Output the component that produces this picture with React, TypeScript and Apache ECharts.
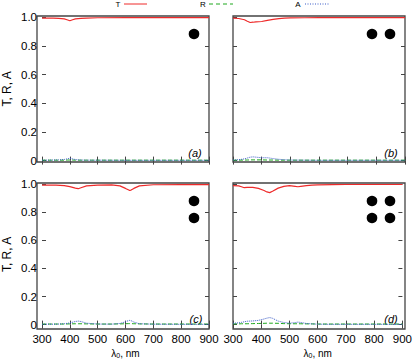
import React, { useEffect, useRef } from "react";
import * as echarts from "echarts";

// ---- data ----
const lamA = [300, 320, 340, 360, 380, 390, 400, 410, 420, 440, 460, 500, 600, 700, 800, 900];
const tA = [0.994, 0.994, 0.993, 0.992, 0.988, 0.982, 0.975, 0.982, 0.988, 0.992, 0.994, 0.996, 0.997, 0.997, 0.997, 0.997];
const rA = [0.003, 0.003, 0.003, 0.003, 0.003, 0.004, 0.004, 0.004, 0.003, 0.003, 0.003, 0.003, 0.003, 0.003, 0.003, 0.003];
const aA = [0.003, 0.003, 0.004, 0.005, 0.008, 0.012, 0.016, 0.012, 0.007, 0.004, 0.003, 0.003, 0.002, 0.002, 0.002, 0.002];

const lamB = [300, 320, 340, 350, 360, 370, 380, 400, 420, 440, 460, 480, 500, 550, 600, 700, 800, 900];
const tB = [0.993, 0.991, 0.982, 0.972, 0.963, 0.965, 0.968, 0.97, 0.978, 0.985, 0.99, 0.993, 0.995, 0.996, 0.997, 0.997, 0.997, 0.997];
const rB = [0.003, 0.003, 0.004, 0.004, 0.005, 0.005, 0.005, 0.005, 0.004, 0.004, 0.003, 0.003, 0.003, 0.003, 0.003, 0.003, 0.003, 0.003];
const aB = [0.004, 0.006, 0.012, 0.018, 0.024, 0.026, 0.024, 0.02, 0.02, 0.014, 0.009, 0.006, 0.004, 0.003, 0.002, 0.002, 0.002, 0.002];

const lamC = [300, 350, 380, 400, 420, 430, 440, 460, 500, 550, 580, 600, 610, 615, 620, 630, 650, 700, 800, 900];
const tC = [0.993, 0.994, 0.99, 0.983, 0.972, 0.968, 0.975, 0.988, 0.994, 0.995, 0.988, 0.97, 0.96, 0.955, 0.958, 0.97, 0.988, 0.996, 0.997, 0.997];
const rC = [0.004, 0.004, 0.004, 0.005, 0.006, 0.006, 0.006, 0.005, 0.004, 0.004, 0.005, 0.006, 0.007, 0.007, 0.007, 0.006, 0.005, 0.004, 0.004, 0.004];
const aC = [0.003, 0.003, 0.006, 0.012, 0.022, 0.025, 0.022, 0.01, 0.004, 0.003, 0.008, 0.02, 0.028, 0.03, 0.028, 0.018, 0.006, 0.003, 0.002, 0.002];

const lamD = [300, 320, 330, 340, 350, 370, 390, 410, 420, 430, 440, 460, 480, 500, 520, 530, 540, 560, 580, 600, 650, 700, 800, 900];
const tD = [0.99, 0.988, 0.982, 0.975, 0.977, 0.978, 0.97, 0.955, 0.945, 0.94, 0.95, 0.972, 0.985, 0.99, 0.985, 0.982, 0.985, 0.99, 0.993, 0.995, 0.997, 0.998, 0.998, 0.998];
const rD = [0.005, 0.005, 0.006, 0.006, 0.006, 0.007, 0.008, 0.009, 0.01, 0.01, 0.01, 0.009, 0.007, 0.006, 0.006, 0.006, 0.006, 0.005, 0.005, 0.004, 0.004, 0.004, 0.004, 0.004];
const aD = [0.01, 0.012, 0.016, 0.02, 0.024, 0.026, 0.03, 0.04, 0.046, 0.05, 0.045, 0.025, 0.015, 0.01, 0.014, 0.018, 0.015, 0.008, 0.005, 0.003, 0.002, 0.002, 0.002, 0.002];

const panelLabels = ["(a)", "(b)", "(c)", "(d)"];
const xMin = 300;
const xMax = 900;
const xStep = 100;
const yMin = 0;
const yMax = 1;
const yStep = 0.2;

const panels = [
  { lam: lamA, t: tA, r: rA, a: aA },
  { lam: lamB, t: tB, r: rB, a: aB },
  { lam: lamC, t: tC, r: rC, a: aC },
  { lam: lamD, t: tD, r: rD, a: aD },
];

const FONT = "Liberation Sans";
const RED = "#ee2a2a";
const GREEN = "#1fa81f";
const BLUE = "#3a5bc7";
const FRAME = "#444444";

const frames = [
  { x: 37, y: 16, w: 172, h: 146 },
  { x: 233, y: 16, w: 172, h: 146 },
  { x: 37, y: 183, w: 172, h: 146 },
  { x: 233, y: 183, w: 172, h: 146 },
];
const padTop = 1.2;
const padBottom = 1.4;

export default function App() {
  const ref = useRef<HTMLDivElement>(null);
  useEffect(() => {
    if (!ref.current) return;
    const chart = echarts.init(ref.current, null, { renderer: "svg" });

    const grid = frames.map((f) => ({
      left: f.x,
      top: f.y + padTop,
      width: f.w,
      height: f.h - padTop - padBottom,
    }));

    const tick = { show: true, inside: true, length: 4, lineStyle: { color: FRAME, width: 1 } };

    const xAxis: any[] = [];
    const yAxis: any[] = [];
    frames.forEach((_, i) => {
      const bottomRow = i >= 2;
      xAxis.push({
        type: "value",
        gridIndex: i,
        min: xMin,
        max: xMax,
        interval: xStep,
        position: "bottom",
        offset: padBottom,
        axisLine: { show: false },
        axisTick: tick,
        splitLine: { show: false },
        axisLabel: {
          show: bottomRow,
          color: "#000",
          fontSize: 11.5,
          fontFamily: FONT,
          margin: 7,
        },
        name: bottomRow ? "λ{s|0}, nm" : "",
        nameLocation: "middle",
        nameGap: 22,
        nameTextStyle: {
          color: "#000",
          fontSize: 10,
          fontFamily: FONT,
          rich: { s: { fontSize: 7, verticalAlign: "bottom", padding: [4, 0, 0, 0], fontFamily: FONT } },
        },
      });
    });
    frames.forEach((_, i) => {
      xAxis.push({
        type: "value",
        gridIndex: i,
        min: xMin,
        max: xMax,
        interval: xStep,
        position: "top",
        axisLine: { show: false },
        axisTick: tick,
        splitLine: { show: false },
        axisLabel: { show: false },
      });
    });
    frames.forEach((_, i) => {
      const leftCol = i % 2 === 0;
      yAxis.push({
        type: "value",
        gridIndex: i,
        min: yMin,
        max: yMax,
        interval: yStep,
        position: "left",
        axisLine: { show: false },
        axisTick: tick,
        splitLine: { show: false },
        axisLabel: {
          show: leftCol,
          color: "#000",
          fontSize: 11.5,
          fontFamily: FONT,
          margin: 5,
          formatter: (v: number) => (v === 0 ? "0" : v.toFixed(1)),
        },
        name: leftCol ? "T, R, A" : "",
        nameLocation: "middle",
        nameRotate: 90,
        nameGap: 29,
        nameTextStyle: { color: "#000", fontSize: 12, fontFamily: FONT },
      });
    });
    frames.forEach((_, i) => {
      yAxis.push({
        type: "value",
        gridIndex: i,
        min: yMin,
        max: yMax,
        interval: yStep,
        position: "right",
        axisLine: { show: false },
        axisTick: tick,
        splitLine: { show: false },
        axisLabel: { show: false },
      });
    });

    const series: any[] = [];
    panels.forEach((p, i) => {
      const mk = (vals: number[], color: string, type: string, width: number, name: string) => ({
        type: "line",
        name,
        xAxisIndex: i,
        yAxisIndex: i,
        data: p.lam.map((x, k) => [x, vals[k]]),
        showSymbol: false,
        symbol: "none",
        clip: false,
        lineStyle: { color, type, width },
      });
      series.push(mk(p.r, GREEN, "dashed", 1, "R"));
      series.push(mk(p.a, BLUE, "dotted", 1, "A"));
      series.push(mk(p.t, RED, "solid", 1.2, "T"));
    });

    const graphic: any[] = [];
    frames.forEach((f) => {
      graphic.push({
        type: "rect",
        shape: { x: f.x, y: f.y, width: f.w, height: f.h },
        style: { fill: "none", stroke: FRAME, lineWidth: 1.3 },
        silent: true,
      });
    });
    const legendItems = [
      { label: "T", tx: 118, x1: 124, x2: 147, color: RED, dash: null },
      { label: "R", tx: 203, x1: 209, x2: 233, color: GREEN, dash: [4, 3] },
      { label: "A", tx: 298, x1: 305, x2: 329, color: BLUE, dash: [1, 1.5] },
    ];
    legendItems.forEach((l) => {
      graphic.push({
        type: "text",
        x: l.tx,
        y: 4,
        style: { text: l.label, fontSize: 8, fontFamily: FONT, fill: "#000", align: "center", verticalAlign: "middle" },
      });
      graphic.push({
        type: "line",
        shape: { x1: l.x1, y1: 4, x2: l.x2, y2: 4 },
        style: { stroke: l.color, lineWidth: 1, lineDash: l.dash || undefined },
      });
    });
    const labelPos = [
      [195, 153],
      [391, 153],
      [196, 319],
      [391, 319],
    ];
    panelLabels.forEach((t, i) => {
      graphic.push({
        type: "text",
        x: labelPos[i][0],
        y: labelPos[i][1],
        style: {
          text: t,
          fontSize: 11,
          fontStyle: "italic",
          fontFamily: FONT,
          fill: "#000",
          align: "center",
          verticalAlign: "middle",
        },
      });
    });
    const dots = [
      [194, 34],
      [372, 34],
      [390, 34],
      [194, 201],
      [194, 218],
      [372, 201],
      [390, 201],
      [372, 218],
      [390, 218],
    ];
    dots.forEach(([cx, cy]) => {
      graphic.push({ type: "circle", shape: { cx, cy, r: 5.3 }, style: { fill: "#000" } });
    });

    chart.setOption({
      animation: false,
      grid,
      xAxis,
      yAxis,
      series,
      graphic,
    });
    return () => chart.dispose();
  }, []);

  return <div ref={ref} style={{ width: 415, height: 360, position: "absolute", left: 0, top: 0 }} />;
}
